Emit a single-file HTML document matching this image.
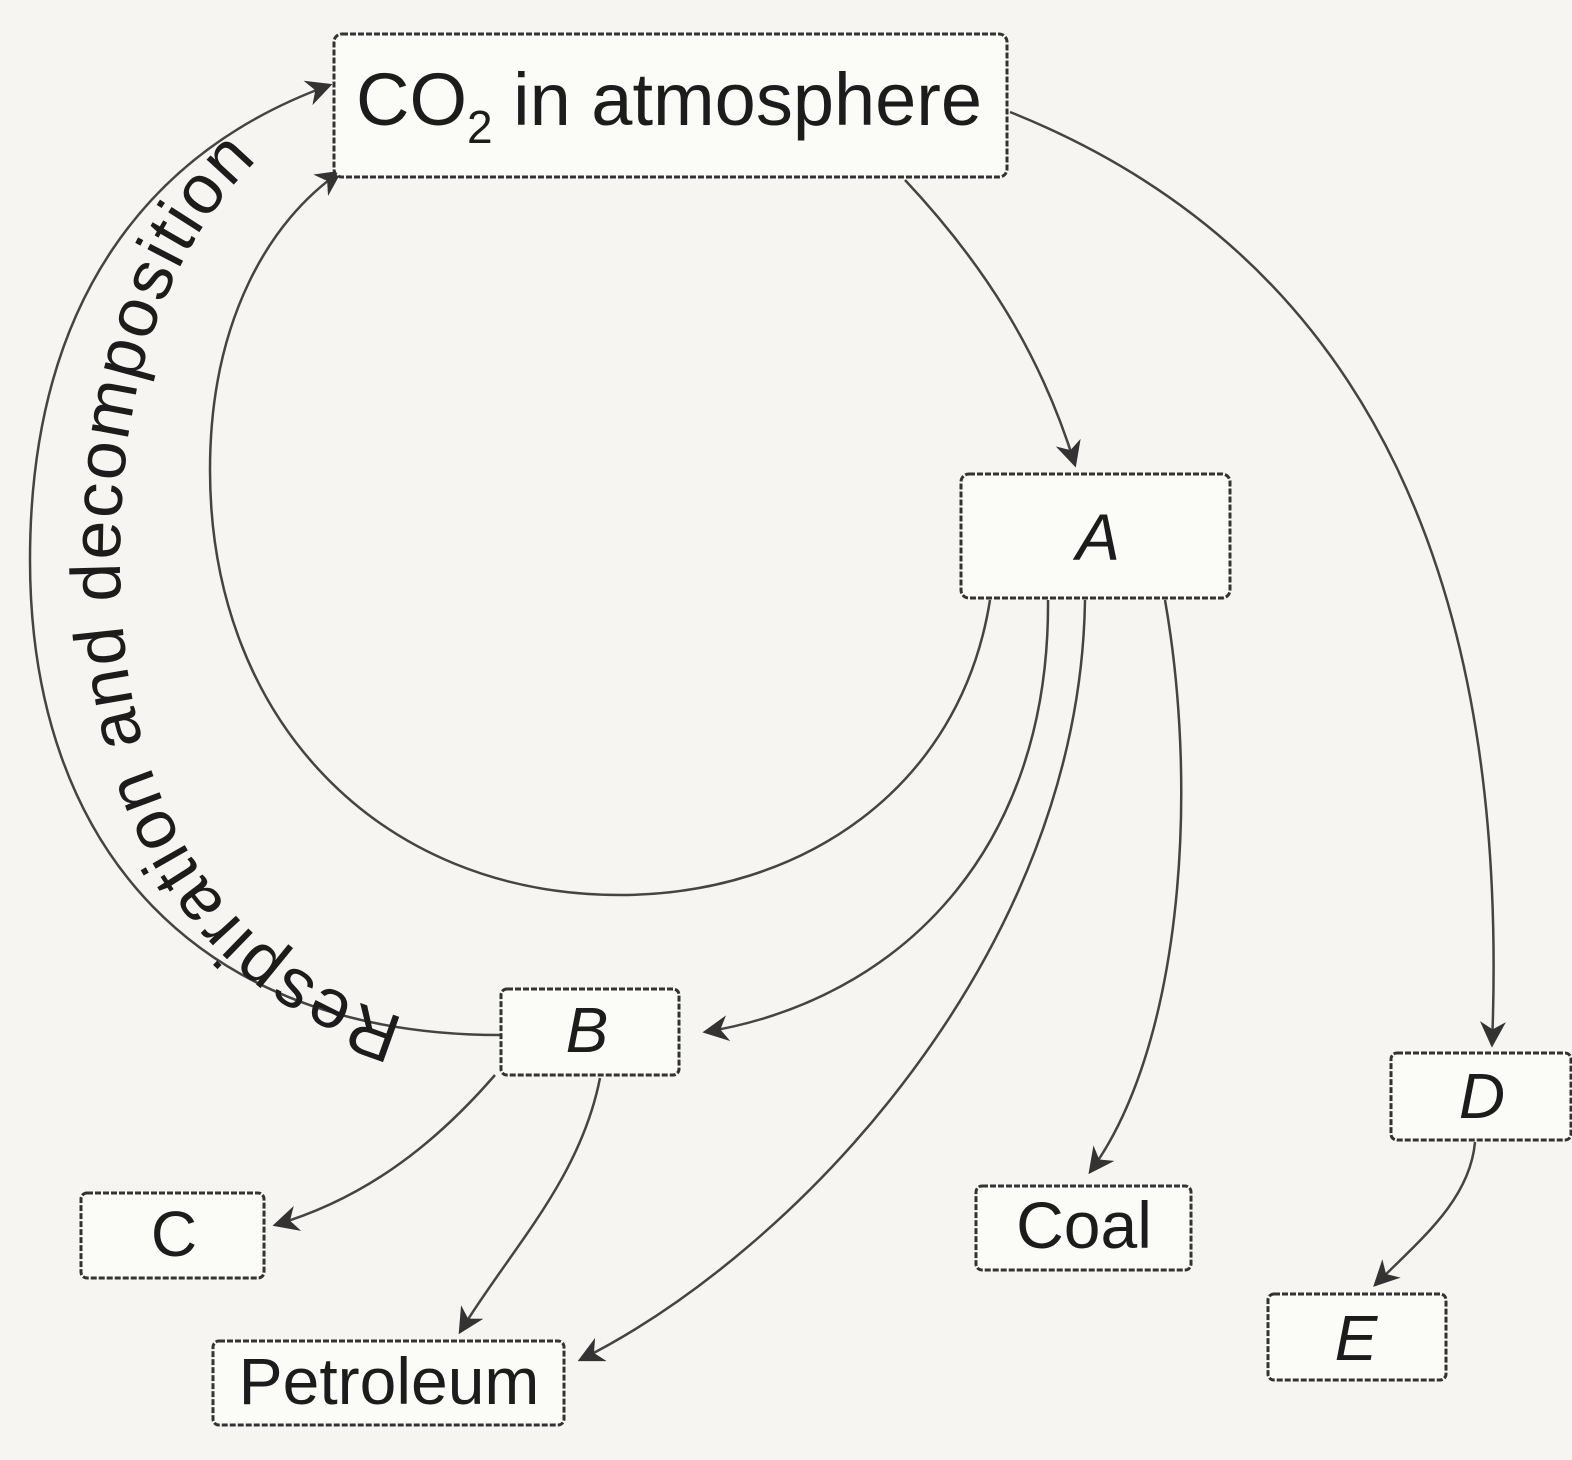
<!DOCTYPE html>
<html><head><meta charset="utf-8"><style>
html,body{margin:0;padding:0;background:#f6f5f1;}
svg{display:block;}
text{font-family:"Liberation Sans",sans-serif;fill:#1c1c1c;}
</style></head><body>
<svg width="1572" height="1460" viewBox="0 0 1572 1460" xmlns="http://www.w3.org/2000/svg">
<defs>
<marker id="a2" viewBox="0 0 10 10" refX="9" refY="5" markerWidth="26" markerHeight="26" markerUnits="userSpaceOnUse" orient="auto">
<path d="M0,0 L10,5 L0,10 L3,5 Z" fill="#333"/></marker>
</defs>
<rect width="1572" height="1460" fill="#f6f5f1"/>
<g fill="none" stroke="#444" stroke-width="2.5">
<path d="M905,180 C 980,260 1040,350 1075,465" marker-end="url(#a2)"/>
<path d="M1010,112 C 1380,260 1510,600 1492,1045" marker-end="url(#a2)"/>
<path d="M990,600 C 960,790 800,895 620,895 C 380,895 210,720 210,470 C 210,320 270,220 340,172" marker-end="url(#a2)"/>
<path d="M500,1035 C 200,1035 30,850 30,560 C 30,300 150,150 330,85" marker-end="url(#a2)"/>
<path d="M1048,600 C 1050,850 900,1000 705,1032" marker-end="url(#a2)"/>
<path d="M1085,600 C 1080,950 800,1250 580,1360" marker-end="url(#a2)"/>
<path d="M1165,600 C 1200,800 1180,1050 1090,1172" marker-end="url(#a2)"/>
<path d="M495,1075 C 430,1150 360,1200 275,1225" marker-end="url(#a2)"/>
<path d="M600,1078 C 580,1180 510,1250 460,1332" marker-end="url(#a2)"/>
<path d="M1475,1142 C 1470,1200 1420,1240 1375,1285" marker-end="url(#a2)"/>
</g>
<g fill="#fbfbf8" stroke="#333" stroke-width="3" stroke-dasharray="6 2">
<rect x="334" y="34" width="673" height="143" rx="8"/>
<rect x="961" y="474" width="269" height="124" rx="8"/>
<rect x="501" y="989" width="178" height="86" rx="6"/>
<rect x="81" y="1193" width="183" height="85" rx="6"/>
<rect x="213" y="1341" width="351" height="84" rx="6"/>
<rect x="976" y="1186" width="215" height="84" rx="6"/>
<rect x="1391" y="1053" width="180" height="87" rx="6"/>
<rect x="1268" y="1294" width="178" height="86" rx="6"/>
</g>
<text x="356" y="125" font-size="74">CO<tspan font-size="46" dy="18">2</tspan><tspan dy="-18"> in atmosphere</tspan></text>
<text x="1098" y="560" font-size="66" font-style="italic" text-anchor="middle">A</text>
<text x="587" y="1052" font-size="64" font-style="italic" text-anchor="middle">B</text>
<text x="174" y="1256" font-size="64" text-anchor="middle">C</text>
<text x="389" y="1404" font-size="66" text-anchor="middle">Petroleum</text>
<text x="1084" y="1248" font-size="66" text-anchor="middle">Coal</text>
<text x="1482" y="1118" font-size="64" font-style="italic" text-anchor="middle">D</text>
<text x="1356" y="1360" font-size="64" font-style="italic" text-anchor="middle">E</text>
<path id="tp" d="M405,1018 C 220,965 120,800 120,560 C 120,360 180,200 320,110" fill="none"/>
<text font-size="70" letter-spacing="2"><textPath href="#tp">Respiration and decomposition</textPath></text>
</svg>
</body></html>
